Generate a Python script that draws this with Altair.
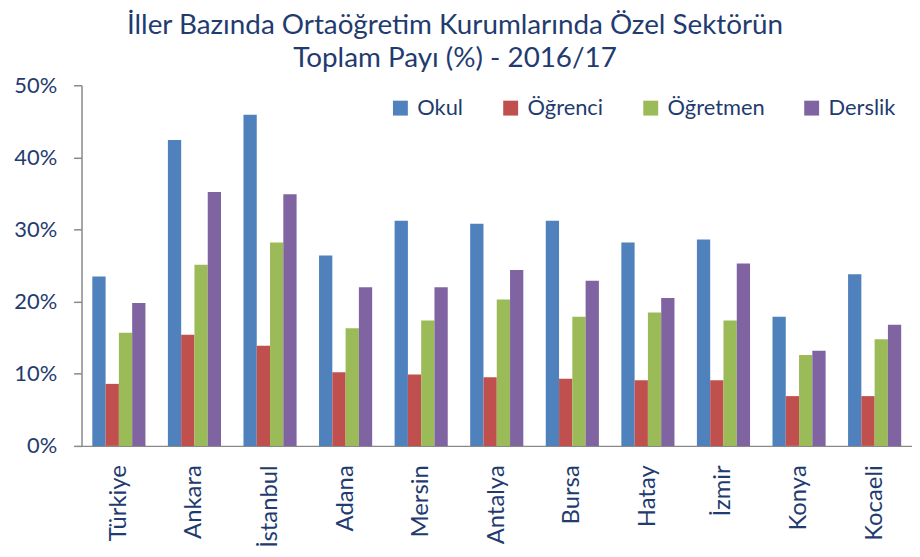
import altair as alt
import pandas as pd

iller = ["Türkiye", "Ankara", "İstanbul", "Adana", "Mersin", "Antalya",
         "Bursa", "Hatay", "İzmir", "Konya", "Kocaeli"]
seriler = ["Okul", "Öğrenci", "Öğretmen", "Derslik"]
okul = [23.5, 42.4, 45.9, 26.4, 31.2, 30.8, 31.2, 28.2, 28.6, 17.9, 23.8]
ogrenci = [8.6, 15.4, 13.9, 10.2, 9.9, 9.5, 9.3, 9.1, 9.1, 6.9, 6.9]
ogretmen = [15.7, 25.1, 28.2, 16.3, 17.4, 20.3, 17.9, 18.5, 17.4, 12.6, 14.8]
derslik = [19.8, 35.2, 34.9, 22.0, 22.0, 24.4, 22.9, 20.5, 25.3, 13.2, 16.8]
renkler = ["#4F81BD", "#C0504D", "#9BBB59", "#8064A2"]
y_ticks = [0, 10, 20, 30, 40, 50]
baslik = ["İller Bazında Ortaöğretim Kurumlarında Özel Sektörün",
          "Toplam Payı (%) - 2016/17"]

rows = []
for seri, vals in zip(seriler, [okul, ogrenci, ogretmen, derslik]):
    for il, v in zip(iller, vals):
        rows.append({"il": il, "seri": seri, "deger": v})
df = pd.DataFrame(rows)

NAVY = "#1F3B70"
GRAY = "#898989"
FONT = "Lato"

chart = alt.Chart(df).mark_bar().encode(
    x=alt.X("il:N", sort=iller, title=None,
            scale=alt.Scale(paddingInner=0.297, paddingOuter=0.143),
            axis=alt.Axis(labelAngle=270, labelAlign="right", labelBaseline="middle",
                          ticks=False, labelPadding=19, labelFontSize=24,
                          labelFont=FONT, labelColor=NAVY, domainColor=GRAY,
                          domainWidth=1.5)),
    xOffset=alt.XOffset("seri:N", sort=seriler),
    y=alt.Y("deger:Q", title=None,
            scale=alt.Scale(domain=[0, 50], nice=False),
            axis=alt.Axis(values=y_ticks, labelExpr="datum.value + '%'",
                          tickSize=8, tickColor=GRAY, domainColor=GRAY,
                          domainWidth=1.5, tickWidth=1.5,
                          labelPadding=17, labelFontSize=22, labelFont=FONT,
                          labelColor=NAVY, grid=False)),
    color=alt.Color("seri:N", sort=seriler,
                    scale=alt.Scale(domain=seriler, range=renkler),
                    legend=alt.Legend(orient="none", legendX=310, legendY=12,
                                      direction="horizontal", columns=4,
                                      columnPadding=36, labelOffset=6,
                                      symbolType="square", symbolSize=225,
                                      symbolStrokeWidth=0, labelFontSize=22,
                                      labelFont=FONT, labelColor=NAVY,
                                      title=None, padding=0)),
).properties(
    width=836,
    height=363,
    title=alt.TitleParams(text=baslik, fontSize=28, font=FONT, color=NAVY,
                          fontWeight="normal", anchor="middle", dx=-42,
                          offset=1, lineHeight=34),
    autosize=alt.AutoSizeParams(type="none"),
    padding={"left": 74, "top": 76, "right": 0, "bottom": 100},
).configure_view(stroke=None)

chart.save("out.html", embed_options={"renderer": "svg", "actions": False})
